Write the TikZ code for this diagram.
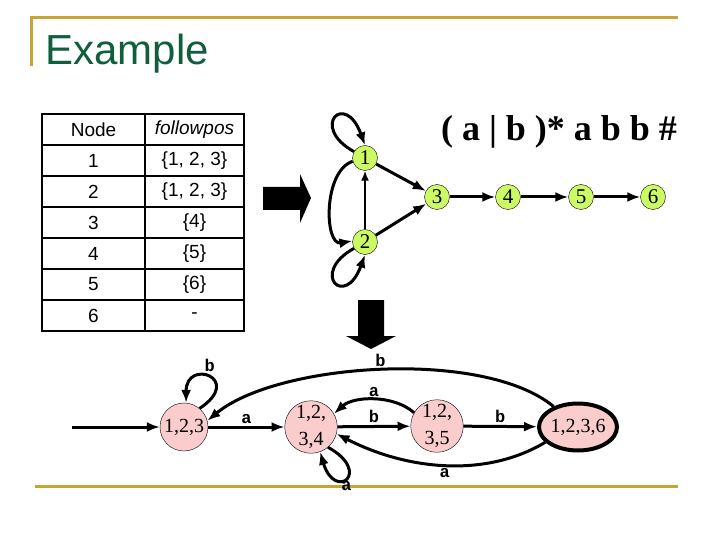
\documentclass[tikz,border=0pt]{standalone}
\usepackage{fontspec}
\setmainfont{Liberation Serif}
\setsansfont{Liberation Sans}
\setmonofont{Liberation Mono}
\usetikzlibrary{arrows.meta,shapes.geometric}
\definecolor{gold}{RGB}{200,165,50}
\definecolor{titlegreen}{RGB}{16,94,60}
\definecolor{posgreen}{RGB}{204,250,102}
\definecolor{statepink}{RGB}{250,204,204}

\begin{document}
\begin{tikzpicture}[x=1pt,y=-1pt,
    cell/.style={font=\sffamily\fontsize{19}{21}\selectfont},
    posnode/.style={circle,draw,fill=posgreen,inner sep=0pt,minimum size=25pt,font=\fontsize{21}{22}\selectfont},
    state/.style={circle,draw,fill=statepink,inner sep=0pt,minimum size=48pt,align=center,font=\fontsize{20}{27}\selectfont},
    edge/.style={line width=3pt,-{Latex[length=13pt,width=10pt]}},
    thin edge/.style={line width=1.8pt,-{Latex[length=10pt,width=8pt]}},
    lbl/.style={font=\ttfamily\bfseries\fontsize{17}{18}\selectfont,inner sep=2pt},
  ]
  \useasboundingbox (0,0) rectangle (720,540);
  % frame lines
  \draw[gold,line width=3pt] (30,18) -- (678,18);
  \draw[gold,line width=3pt] (31,18) -- (31,66);
  \draw[gold,line width=3pt] (35,486) -- (678,486);
  \node[anchor=base west,text=titlegreen,font=\sffamily\fontsize{42}{44}\selectfont] (title) at (42,65) {Example};

  % followpos table
  \draw[line width=2.6pt] (42,114) rectangle (244,331);
  \draw[line width=2.6pt] (145,114) -- (145,331);
  \foreach \y in {145,176,...,300}
    \draw[line width=1.6pt] (42,\y) -- (244,\y);
  \node[cell] (hn) at (93.5,129.5) {Node};
  \node[cell] (hf) at (194.5,129.5) {\itshape followpos};
  \foreach \n/\f [count=\i] in {1/{\{1, 2, 3\}},2/{\{1, 2, 3\}},3/{\{4\}},4/{\{5\}},5/{\{6\}},6/-} {
    \node[cell] (n\i) at (93.5,129.5+31*\i) {\n};
    \node[cell] (f\i) at (194.5,129.5+31*\i) {\f};
  }

  % big arrows
  \fill (263,187) -- (300,187) -- (300,174) -- (311,198) -- (300,223) -- (300,210) -- (263,210) -- cycle;
  \fill (358,300) -- (384,300) -- (384,336) -- (396,336) -- (371,349) -- (346,336) -- (358,336) -- cycle;

  % position graph
  \node[font=\bfseries\fontsize{36}{38}\selectfont] (re) at (559,132) {( a | b )* a b b \#};
  \node[posnode] (p1) at (365,158) {1};
  \node[posnode] (p2) at (365,242) {2};
  \node[posnode] (p3) at (437,197) {3};
  \node[posnode] (p4) at (508,197) {4};
  \node[posnode] (p5) at (581,197) {5};
  \node[posnode] (p6) at (653,197) {6};
  \draw[edge] (p1) -- (p3);
  \draw[edge] (p2) -- (p3);
  \draw[edge] (p3) -- (p4);
  \draw[edge] (p4) -- (p5);
  \draw[edge] (p5) -- (p6);
  \draw[thin edge] (p2) -- (p1);
  \draw[edge] (p1.150) .. controls +(-45,-25) and +(-20,-55) .. (p1.north);
  \draw[edge] (p2.210) .. controls +(-45,25) and +(-20,55) .. (p2.south);
  \draw[edge] (p1.195) .. controls +(-30,10) and +(-28,5) .. (p2.175);

  % DFA
  \node[state] (s123) at (184,427) {1,2,3};
  \node[state] (s1234) at (311,427) {1,2,\\3,4};
  \node[state] (s1235) at (437,426) {1,2,\\3,5};
  \node[state,ellipse,minimum width=78pt,minimum height=47pt,line width=4pt] (s1236) at (578,427) {1,2,3,6};
  \coordinate (start) at (72,427);
  \draw[edge] (start) -- (s123);
  \draw[edge] (s123.50) .. controls +(45,-30) and +(0,-45) .. node[lbl,above,pos=0.5,yshift=2pt] {b} (s123.85);
  \draw[edge] (s123) -- node[lbl,above] {a} (s1234);
  \draw[edge] (s1234.310) .. controls +(45,25) and +(15,50) .. node[lbl,below] {a} (s1234.290);
  \draw[edge] (s1234) -- node[lbl,above] {b} (s1235);
  \draw[edge] (s1235.150) .. controls +(-20,-18) and +(20,-18) .. node[lbl,above] {a} (s1234.30);
  \draw[edge] (s1235) -- node[lbl,above] {b} (s1236);
  \draw[edge] (s1236.205) .. controls +(-60,36) and +(70,36) .. node[lbl,below] {a} (s1234.345);
  \draw[edge] (s1236.140) .. controls +(-70,-58) and +(70,-58) .. node[lbl,above] {b} (s123.15);
\end{tikzpicture}
\end{document}
